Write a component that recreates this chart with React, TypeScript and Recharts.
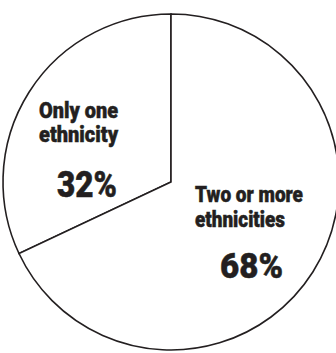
import React from 'react';
import { PieChart, Pie, Cell } from 'recharts';

const categories = ['Only one ethnicity', 'Two or more ethnicities'];
const labelLines = [['Only one', 'ethnicity'], ['Two or more', 'ethnicities']];
const shares = [32, 68];

const data = categories.map((name, i) => ({ name, value: shares[i] }));

const FONT = "Roboto, 'DejaVu Sans', sans-serif";
const INK = '#231f20';

const renderLabel = (props: any) => {
  const { cx, cy, index, value } = props;
  const lines: string[] = labelLines[index];
  const common = {
    fontFamily: FONT,
    fontWeight: 900,
    fill: INK,
    stroke: INK,
    strokeWidth: 0.5,
    lengthAdjust: 'spacingAndGlyphs' as const,
  };
  if (index === 0) {
    return (
      <g>
        <text {...common} x={cx - 132} y={cy - 64} fontSize={22} textLength={79}>{lines[0]}</text>
        <text {...common} x={cx - 132} y={cy - 40} fontSize={22} textLength={79}>{lines[1]}</text>
        <text {...common} x={cx - 114} y={cy + 15} fontSize={36} textLength={60}>{`${value}%`}</text>
      </g>
    );
  }
  return (
    <g>
      <text {...common} x={cx + 24} y={cy + 20} fontSize={22} textLength={108}>{lines[0]}</text>
      <text {...common} x={cx + 24} y={cy + 45} fontSize={22} textLength={90}>{lines[1]}</text>
      <text {...common} x={cx + 49} y={cy + 96} fontSize={35} textLength={63}>{`${value}%`}</text>
    </g>
  );
};

export default function App() {
  return (
    <div style={{ position: 'absolute', left: 0, top: 0, width: 336, height: 353, background: '#fff' }}>
      <PieChart width={336} height={353} margin={{ top: 0, right: 0, bottom: 0, left: 0 }}>
        <Pie
          data={data}
          dataKey="value"
          nameKey="name"
          cx={171}
          cy={182}
          outerRadius={168}
          startAngle={90}
          endAngle={450}
          fill="#fff"
          stroke={INK}
          strokeWidth={1.6}
          label={renderLabel}
          labelLine={false}
          isAnimationActive={false}
        >
          {data.map((d) => (
            <Cell key={d.name} fill="#fff" stroke={INK} />
          ))}
        </Pie>
      </PieChart>
    </div>
  );
}
